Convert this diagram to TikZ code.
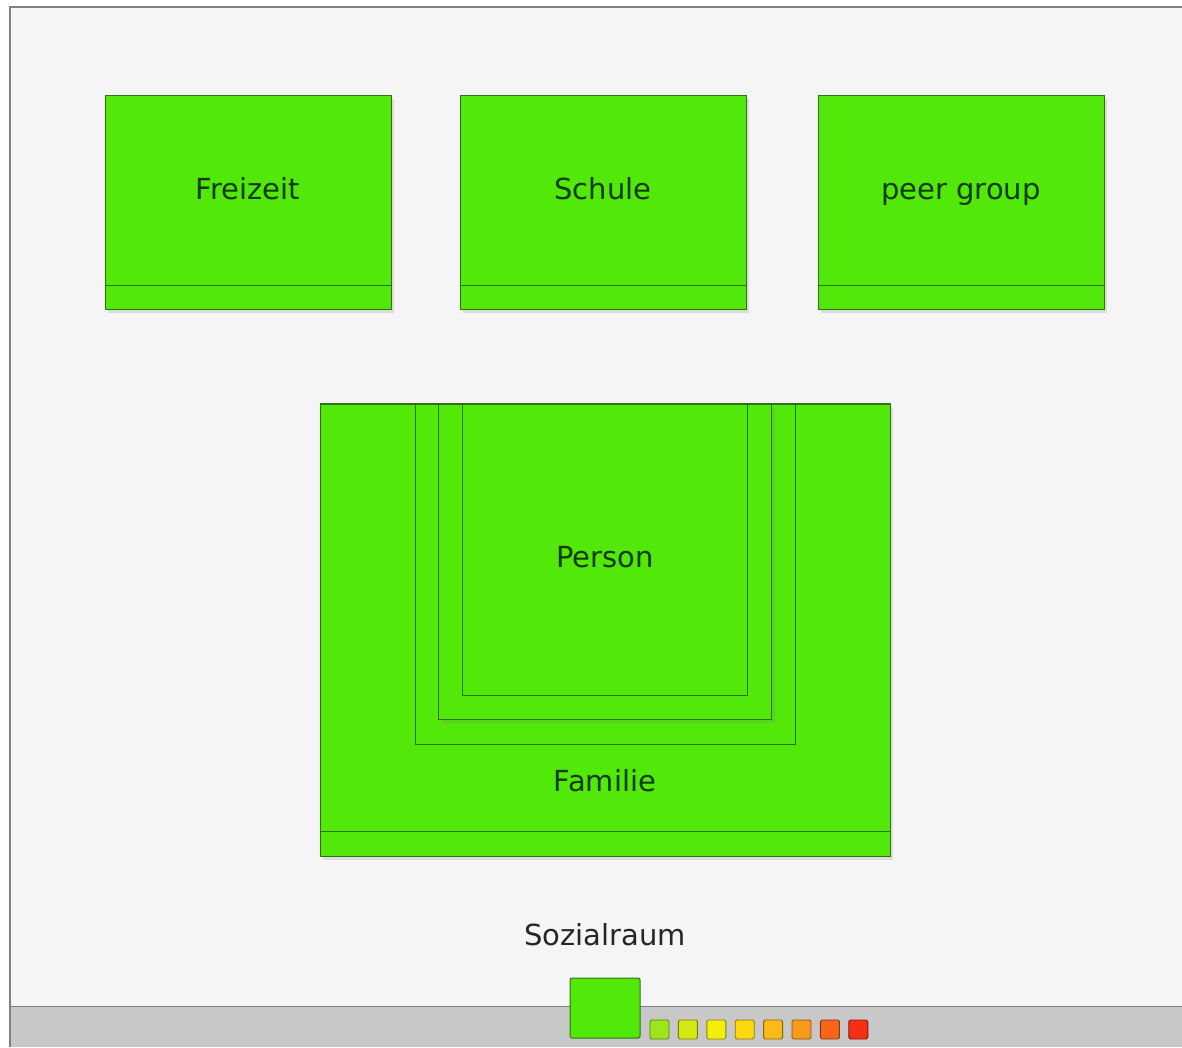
\documentclass[tikz,border=0pt]{standalone}
\usepackage{fontspec}
\setmainfont{DejaVu Sans}
\usepackage{xcolor}
\usepackage{tikz}
\usetikzlibrary{positioning, shadows}
\definecolor{areagreen}{HTML}{52E80A}
\definecolor{areaedge}{HTML}{2F7412}
\definecolor{areatext}{HTML}{0E3A03}
\definecolor{canvasgray}{HTML}{F5F5F5}
\definecolor{barGray}{HTML}{C8C8C8}
\definecolor{frameline}{HTML}{808080}
\definecolor{lvlA}{HTML}{9EE61A}
\definecolor{lvlB}{HTML}{D6E812}
\definecolor{lvlC}{HTML}{F2EE0A}
\definecolor{lvlD}{HTML}{FCD80E}
\definecolor{lvlE}{HTML}{FBBA16}
\definecolor{lvlF}{HTML}{F9991C}
\definecolor{lvlG}{HTML}{F8641A}
\definecolor{lvlH}{HTML}{F42F12}

\begin{document}
\begin{tikzpicture}[
    x=1pt, y=-1pt,
    area/.style={rectangle, draw=areaedge, fill=areagreen, line width=1pt,
        inner sep=0pt},
    shade/.style={drop shadow={opacity=0.22, shadow xshift=3pt, shadow yshift=-4pt}},
    topbox/.style={area, shade, minimum width=286pt, minimum height=214pt},
    frame/.style={area, line width=0.9pt},
    lbl/.style={font=\fontsize{29}{34}\selectfont, text=areatext,
        text height=21pt, text depth=0pt, inner sep=0pt},
    lvl/.style={rectangle, rounded corners=1.5pt, line width=0.9pt,
        minimum size=19pt, inner sep=0pt}
]
    \useasboundingbox (0,0) rectangle (1182,1047);

    % canvas and bottom bar
    \fill[canvasgray] (10,7) rectangle (1182,1007);
    \fill[barGray] (10,1007) rectangle (1182,1047);
    \draw[frameline, line width=1.4pt] (10,1006.5) -- (1182,1006.5);
    \draw[frameline, line width=1.1pt] (10,1047) -- (10,7) -- (1182,7);

    % row of areas
    \foreach \n/\x/\t in {fz/248/Freizeit, sc/603/Schule, pg/961/peer group} {
        \node[topbox] (\n) at (\x,202) {};
        \draw[areaedge, line width=1pt] ([yshift=24pt]\n.south west) -- ([yshift=24pt]\n.south east);
        \node[lbl] (\n-lbl) at ([yshift=13pt]\n.center) {\t};
    }

    % family with nested frames
    \node[area, shade, minimum width=570pt, minimum height=452pt] (fam) at (605,630) {};
    \draw[areaedge, line width=1pt] ([yshift=25pt]fam.south west) -- ([yshift=25pt]fam.south east);
    \node[frame, minimum width=380pt, minimum height=340pt, anchor=north] (ring1) at (fam.north) {};
    \node[frame, shade, minimum width=333pt, minimum height=315pt, anchor=north] (ring2) at (fam.north) {};
    \node[frame, minimum width=285pt, minimum height=291pt, anchor=north] (ring3) at (fam.north) {};
    \draw[areaedge, line width=1pt] (fam.north west) -- (fam.north east);
    \node[lbl] (person) at (605,557) {Person};
    \node[lbl] (famlbl) at (605,781) {Familie};

    % social space label and legend
    \node[lbl, text=black!85] (space) at (605,935) {Sozialraum};
    \node[area, rounded corners=2pt, minimum width=70pt, minimum height=60pt] (key) at (605,1008) {};
    \foreach \c [count=\i from 0] in {lvlA, lvlB, lvlC, lvlD, lvlE, lvlF, lvlG, lvlH}
        \node[lvl, fill=\c, draw=\c!55!black] (lvl\i) at (659.5+28.4*\i,1029.5) {};
\end{tikzpicture}
\end{document}
